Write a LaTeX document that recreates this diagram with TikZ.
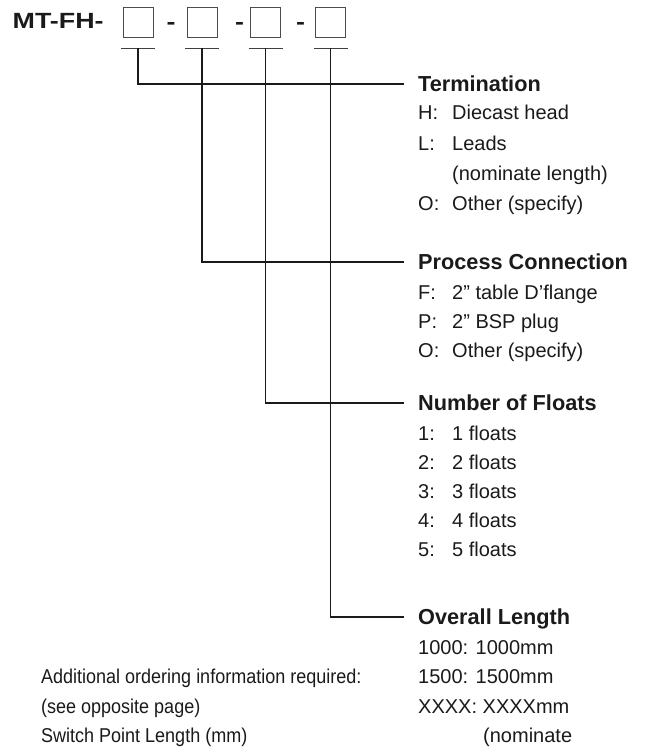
\documentclass[tikz,border=0pt]{standalone}
\usepackage{fontspec}
\setmainfont{Liberation Sans}
\newfontfamily\condfont[FakeStretch=0.9]{Liberation Sans}
\newfontfamily\widebold[FakeStretch=1.22]{Liberation Sans Bold}
\usetikzlibrary{calc}
\definecolor{ink}{HTML}{1A1A1A}
\tikzset{
  txt/.style={anchor=west,inner sep=0pt,text height=14pt,text depth=0pt,text=ink,font=\fontsize{20}{24}\selectfont},
  ltxt/.style={txt,font=\condfont\fontsize{20}{24}\selectfont},
  ttl/.style={anchor=west,inner sep=0pt,text height=15pt,text depth=0pt,text=ink,font=\fontsize{21.7}{26}\selectfont\bfseries},
  codebox/.style={draw=black!70,line width=1pt,minimum width=30pt,minimum height=30pt,inner sep=0pt},
  bar/.style={draw=black!75,line width=1pt},
  conn/.style={draw=ink,line width=1.2pt},
  sep/.style={anchor=base,inner sep=0pt,text=ink,font=\widebold\fontsize{22}{26}\selectfont}
}
\begin{document}
\begin{tikzpicture}[x=1pt,y=-1pt]
\useasboundingbox (0,0) rectangle (646,749);
% code line
\node[anchor=west,inner sep=0pt,text height=15.6pt,text depth=0pt,text=ink,font=\widebold\fontsize{22}{26}\selectfont] (code) at (12.5,20.5) {MT-FH-};
\node[codebox] (b1) at (138,23) {};
\node[sep] (d1) at (171,29.5) {-};
\node[codebox] (b2) at (202,23) {};
\node[sep] (d2) at (239.5,29.5) {-};
\node[codebox] (b3) at (265.5,23) {};
\node[sep] (d3) at (300.5,29.5) {-};
\node[codebox] (b4) at (330.5,23) {};
% bars under the boxes
\foreach \i in {1,2,3,4}{
  \coordinate (u\i) at ($(b\i.south)+(0,10)$);
  \draw[bar] ($(u\i)+(-17,0)$) -- ($(u\i)+(17,0)$);
}
% Termination
\node[ttl] (t1) at (418,84) {Termination};
\node[txt] (h1) at (418,113) {H:};
\node[txt] (h1v) at (452,113) {Diecast head};
\node[txt] (l1) at (418,143) {L:};
\node[txt] (l1v) at (452,143) {Leads};
\node[txt] (l1w) at (452,173) {(nominate length)};
\node[txt] (o1) at (418,203) {O:};
\node[txt] (o1v) at (452,203) {Other (specify)};
% Process Connection
\node[ttl] (t2) at (418,262) {Process Connection};
\node[txt] (f2) at (418,292) {F:};
\node[txt] (f2v) at (452,292) {2” table D’flange};
\node[txt] (p2) at (418,321) {P:};
\node[txt] (p2v) at (452,321) {2” BSP plug};
\node[txt] (o2) at (418,350) {O:};
\node[txt] (o2v) at (452,350) {Other (specify)};
% Number of Floats
\node[ttl] (t3) at (418,403) {Number of Floats};
\foreach \n [count=\k from 0] in {1,2,3,4,5}{
  \node[txt] (n\n) at (418,433+29*\k) {\n:};
  \node[txt] (n\n v) at (452,433+29*\k) {\n{} floats};
}
% Overall Length
\node[ttl] (t4) at (418,617) {Overall Length};
\node[txt] (v1) at (418,647) {1000: 1000mm};
\node[txt] (v2) at (418,676) {1500: 1500mm};
\node[txt] (v3) at (418,706) {XXXX: XXXXmm};
\node[txt] (v4) at (483,735) {(nominate};
% Additional information
\node[ltxt] (a1) at (41,676) {Additional ordering information required:};
\node[ltxt] (a2) at (41,706) {(see opposite page)};
\node[ltxt] (a3) at (41,735) {Switch Point Length (mm)};
% connectors
\draw[conn] (u1) |- ([xshift=-14pt]t1.west);
\draw[conn] (u2) |- ([xshift=-14pt]t2.west);
\draw[conn] (u3) |- ([xshift=-14pt]t3.west);
\draw[conn] (u4) |- ([xshift=-14pt]t4.west);
\end{tikzpicture}
\end{document}
